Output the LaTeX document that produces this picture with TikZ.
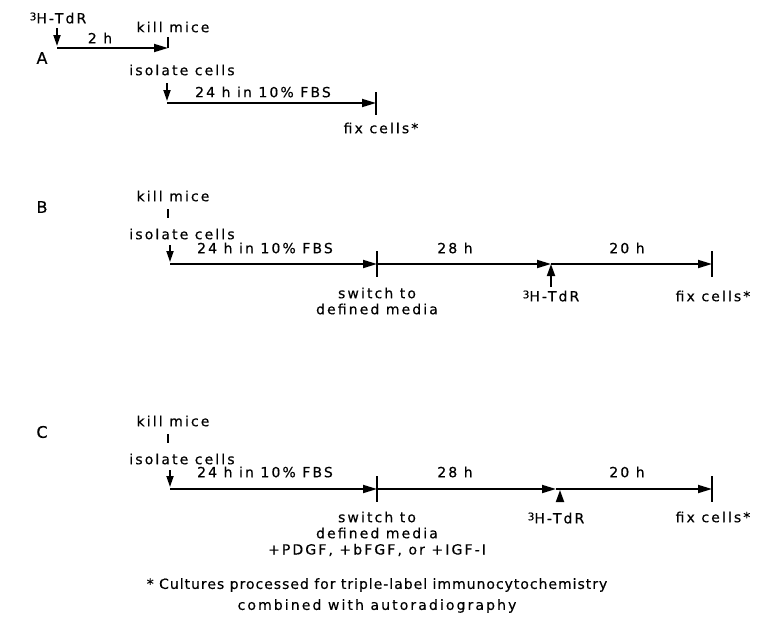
\documentclass[tikz,border=0pt]{standalone}
\usepackage{fontspec}
\setmainfont{DejaVu Sans}[LetterSpace=15,FakeBold=0.4]
\usetikzlibrary{arrows.meta}
\newcommand{\tritium}{\raisebox{3pt}{\fontsize{10.5}{11}\selectfont 3}H-TdR}
\begin{document}
\begin{tikzpicture}[x=1pt,y=-1pt,
  lbl/.style={inner sep=0pt, font=\fontsize{14}{16}\selectfont},
  panel/.style={inner sep=0pt, font=\fontsize{16}{18}\selectfont},
  tl/.style={line width=1.8pt},
  arr/.style={tl, -{Triangle[length=14pt,width=8pt]}},
  downarr/.style={tl, -{Triangle[length=11pt,width=7pt]}, shorten >=2pt},
  uparr/.style={tl, -{Triangle[length=12pt,width=8pt]}},
  tickline/.style={line width=1.8pt}]
\useasboundingbox (0,0) rectangle (762,624);
% ---------------- Row A ----------------
\node[panel] (lA) at (42,58) {A};
\node[lbl] (tdrA) at (58,18) {\tritium};
\coordinate (a0top) at (57,28);
\coordinate (a0) at (57,48);
\coordinate (a1) at (168,48);
\coordinate (a1t) at (168,37);
\node[lbl] (twoh) at (100,38) {2 h};
\node[lbl] (killA) at (173,27) {kill mice};
\draw[downarr] (a0top) -- (a0);
\draw[arr] (a0) -- (a1);
\draw[tickline] (a1t) -- (a1);
\node[lbl] (isoA) at (182,70) {isolate cells};
\coordinate (a2top) at (167,83);
\coordinate (a2) at (167,103);
\coordinate (a3) at (376,103);
\coordinate (a3t) at (376,92);
\coordinate (a3b) at (376,115);
\node[lbl] (fbsA) at (263,92) {24 h in 10\% FBS};
\draw[downarr] (a2top) -- (a2);
\draw[arr] (a2) -- (a3);
\draw[tickline] (a3t) -- (a3b);
\node[lbl] (fixA) at (381,128) {fix cells*};
% ---------------- Row B ----------------
\node[panel] (lB) at (42,207) {B};
\node[lbl] (killB) at (173,196) {kill mice};
\coordinate (bkt) at (168,209);
\coordinate (bkb) at (168,218);
\draw[tickline] (bkt) -- (bkb);
\node[lbl] (isoB) at (182,234) {isolate cells};
\coordinate (b0top) at (170,245);
\coordinate (b0) at (170,264);
\coordinate (b1) at (377,264);
\coordinate (b1t) at (377,251);
\coordinate (b1b) at (377,277);
\coordinate (b2) at (551,264);
\coordinate (b2u) at (551,287);
\coordinate (b3) at (712,264);
\coordinate (b3t) at (712,251);
\coordinate (b3b) at (712,277);
\draw[downarr] (b0top) -- (b0);
\draw[arr] (b0) -- (b1);
\draw[arr] (b1) -- (b2);
\draw[arr] (b2) -- (b3);
\draw[tickline] (b1t) -- (b1b);
\draw[tickline] (b3t) -- (b3b);
\draw[uparr] (b2u) -- (b2);
\node[lbl] (fbsB) at (265,248) {24 h in 10\% FBS};
\node[lbl] (h28B) at (455,248) {28 h};
\node[lbl] (h20B) at (627,248) {20 h};
\node[lbl] (swB) at (377,293) {switch to};
\node[lbl] (dmB) at (377,309) {defined media};
\node[lbl] (tdrB) at (551,296) {\tritium};
\node[lbl] (fixB) at (713,296) {fix cells*};
% ---------------- Row C ----------------
\node[panel] (lC) at (42,432) {C};
\node[lbl] (killC) at (173,421) {kill mice};
\coordinate (ckt) at (168,434);
\coordinate (ckb) at (168,443);
\draw[tickline] (ckt) -- (ckb);
\node[lbl] (isoC) at (182,459) {isolate cells};
\coordinate (c0top) at (170,470);
\coordinate (c0) at (170,489);
\coordinate (c1) at (377,489);
\coordinate (c1t) at (377,476);
\coordinate (c1b) at (377,502);
\coordinate (c2) at (556,489);
\coordinate (c2u) at (560,501);
\coordinate (c2tip) at (560,490);
\coordinate (c3) at (712,489);
\coordinate (c3t) at (712,476);
\coordinate (c3b) at (712,502);
\draw[downarr] (c0top) -- (c0);
\draw[arr] (c0) -- (c1);
\draw[arr] (c1) -- (c2);
\draw[arr] (c2) -- (c3);
\draw[tickline] (c1t) -- (c1b);
\draw[tickline] (c3t) -- (c3b);
\draw[uparr] (c2u) -- (c2tip);
\node[lbl] (fbsC) at (265,472) {24 h in 10\% FBS};
\node[lbl] (h28C) at (455,472) {28 h};
\node[lbl] (h20C) at (627,472) {20 h};
\node[lbl] (swC) at (377,517) {switch to};
\node[lbl] (dmC) at (377,533) {defined media};
\node[lbl] (gfC) at (377,550) {+PDGF, +bFGF, or +IGF-I};
\node[lbl] (tdrC) at (556,518) {\tritium};
\node[lbl] (fixC) at (713,517) {fix cells*};
% ---------------- Footnote ----------------
\node[lbl] (fn1) at (377,585) {\addfontfeatures{LetterSpace=7}* Cultures processed for triple-label immunocytochemistry};
\node[lbl] (fn2) at (377,606) {combined with autoradiography};
\end{tikzpicture}
\end{document}
